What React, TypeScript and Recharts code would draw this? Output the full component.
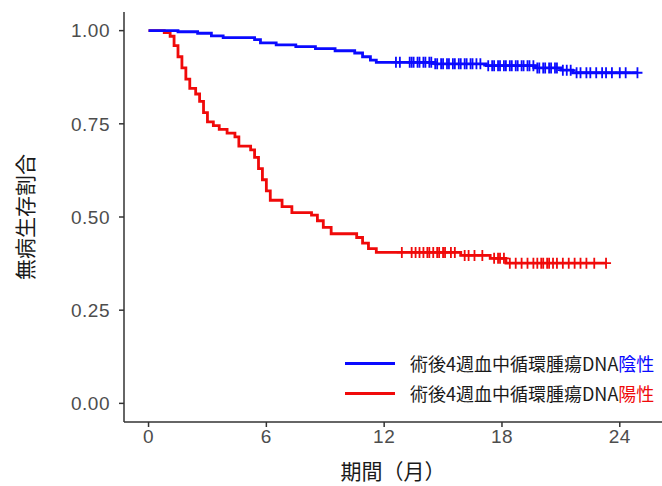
import { ComposedChart, Line, Scatter, XAxis, YAxis } from 'recharts'

// 陰性 (ctDNA negative): event times and survival
const negTimes = [0, 1.5, 2.5, 3.2, 3.8, 5.4, 5.7, 6.5, 7.5, 8.5, 9.5, 10.5, 10.9, 11.3, 11.6, 14.6, 17.2, 19.7, 21.0, 21.6]
const negSurv = [1.0, 0.997, 0.993, 0.986, 0.981, 0.976, 0.967, 0.962, 0.957, 0.952, 0.946, 0.94, 0.93, 0.921, 0.915, 0.911, 0.906, 0.9, 0.894, 0.887]
const negCensor = [
  12.6, 12.8, 13.3, 13.4, 13.5, 13.7, 13.8, 14.0, 14.1, 14.3, 14.4, 14.6, 14.7, 14.9, 15.0, 15.2, 15.3, 15.5,
  15.6, 15.8, 15.9, 16.1, 16.2, 16.4, 16.5, 16.7, 16.9, 17.3, 17.5, 17.6, 17.8, 17.9, 18.1, 18.2, 18.4, 18.5,
  18.7, 18.8, 19.0, 19.1, 19.3, 19.4, 19.6, 19.8, 19.9, 20.1, 20.2, 20.4, 20.5, 20.7, 20.8, 21.1, 21.3, 21.5,
  21.8, 22.0, 22.3, 22.5, 22.8, 23.1, 23.3, 23.6, 24.0, 24.3, 24.9,
]

// 陽性 (ctDNA positive)
const posTimes = [
  0, 0.8, 1.1, 1.3, 1.5, 1.7, 1.9, 2.1, 2.4, 2.6, 2.8, 3.0, 3.3, 3.6, 4.0, 4.4, 4.6, 5.2, 5.4, 5.6, 5.8, 6.0,
  6.2, 6.8, 7.3, 8.3, 8.6, 8.9, 9.3, 10.6, 10.9, 11.2, 11.6, 15.9, 17.4, 18.2,
]
const posSurv = [
  1.0, 0.995, 0.985, 0.96, 0.93, 0.9, 0.87, 0.845, 0.83, 0.81, 0.78, 0.755, 0.745, 0.735, 0.725, 0.715, 0.69,
  0.68, 0.66, 0.63, 0.6, 0.57, 0.545, 0.528, 0.512, 0.505, 0.49, 0.472, 0.455, 0.445, 0.43, 0.415, 0.405,
  0.397, 0.389, 0.376,
]
const posCensor = [
  12.9, 13.4, 13.6, 13.8, 14.0, 14.2, 14.3, 14.5, 14.7, 14.8, 15.0, 15.1, 15.4, 15.6, 16.1, 16.3, 16.6, 17.0,
  17.6, 17.8, 17.9, 18.1, 18.4, 18.7, 19.0, 19.3, 19.6, 19.8, 20.0, 20.1, 20.3, 20.4, 20.6, 20.8, 21.1, 21.4,
  21.7, 22.0, 22.3, 22.7, 23.3,
]

const xTicks = [0, 6, 12, 18, 24]
const yTicks = [0, 0.25, 0.5, 0.75, 1]

const BLUE = '#0a0aff'
const RED = '#f00a0a'
const JP = '"Noto Sans CJK JP", sans-serif'

const toSteps = (times: number[], surv: number[], censor: number[]) => {
  const rows = times.map((t, i) => ({ t, s: surv[i] }))
  const last = censor[censor.length - 1]
  if (last > times[times.length - 1]) rows.push({ t: last, s: surv[surv.length - 1] })
  return rows
}

// value of the step function at a censor time
const censorPoints = (times: number[], surv: number[], censor: number[]) =>
  censor.map((c) => {
    let s = surv[0]
    times.forEach((t, i) => {
      if (t <= c) s = surv[i]
    })
    return { t: c, s }
  })

const negLine = toSteps(negTimes, negSurv, negCensor)
const posLine = toSteps(posTimes, posSurv, posCensor)
const negMarks = censorPoints(negTimes, negSurv, negCensor)
const posMarks = censorPoints(posTimes, posSurv, posCensor)

const Plus = (color: string) => (props: any) => {
  const { cx, cy } = props
  return (
    <path
      d={`M${cx - 5},${cy}H${cx + 5}M${cx},${cy - 5.5}V${cy + 5.5}`}
      stroke={color}
      strokeWidth={1.8}
      fill="none"
    />
  )
}

const legendItems = [
  { color: BLUE, label: '陰性' },
  { color: RED, label: '陽性' },
]

function KmLegend() {
  return (
    <div style={{ position: 'absolute', left: 345, top: 348, fontFamily: JP, fontSize: 18, color: '#1a1a1a' }}>
      {legendItems.map((it) => (
        <div key={it.label} style={{ display: 'flex', alignItems: 'center', height: 30 }}>
          <span style={{ display: 'inline-block', width: 50, height: 3, background: it.color, marginRight: 15 }} />
          <span>
            術後4週血中循環腫瘍DNA<span style={{ color: it.color }}>{it.label}</span>
          </span>
        </div>
      ))}
    </div>
  )
}

const tickStyle = { fontSize: 19, fill: '#4d4d4d', fontFamily: 'Liberation Sans, Arial, sans-serif', letterSpacing: 0.5 }

export default function App() {
  return (
    <div style={{ position: 'absolute', left: 0, top: 0, width: 662, height: 486, background: '#fff' }}>
      <ComposedChart width={662} height={486} margin={{ top: 12, right: 0, bottom: 0, left: 0 }}>
        <XAxis
          type="number"
          dataKey="t"
          domain={[-1.25, 26.15]}
          ticks={xTicks}
          allowDataOverflow
          height={64}
          tick={tickStyle}
          tickSize={5}
          tickMargin={3}
          stroke="#333"
          strokeWidth={1.5}
          label={{
            value: '期間（月）',
            position: 'insideBottom',
            offset: 7,
            style: { fontSize: 21, fill: '#1a1a1a', fontFamily: JP },
          }}
        />
        <YAxis
          type="number"
          dataKey="s"
          domain={[-0.05, 1.05]}
          ticks={yTicks}
          allowDataOverflow
          width={124}
          tick={tickStyle}
          tickSize={5}
          tickMargin={9}
          tickFormatter={(v: number) => v.toFixed(2)}
          stroke="#333"
          strokeWidth={1.5}
          label={{
            value: '無病生存割合',
            angle: -90,
            position: 'insideLeft',
            offset: 26,
            style: { fontSize: 21, fill: '#1a1a1a', fontFamily: JP, textAnchor: 'middle' },
          }}
        />
        <Line data={posLine} dataKey="s" type="stepAfter" stroke={RED} strokeWidth={2.8} dot={false} isAnimationActive={false} />
        <Line data={negLine} dataKey="s" type="stepAfter" stroke={BLUE} strokeWidth={2.8} dot={false} isAnimationActive={false} />
        <Scatter data={posMarks} dataKey="s" shape={Plus(RED)} isAnimationActive={false} />
        <Scatter data={negMarks} dataKey="s" shape={Plus(BLUE)} isAnimationActive={false} />
      </ComposedChart>
      <KmLegend />
    </div>
  )
}
